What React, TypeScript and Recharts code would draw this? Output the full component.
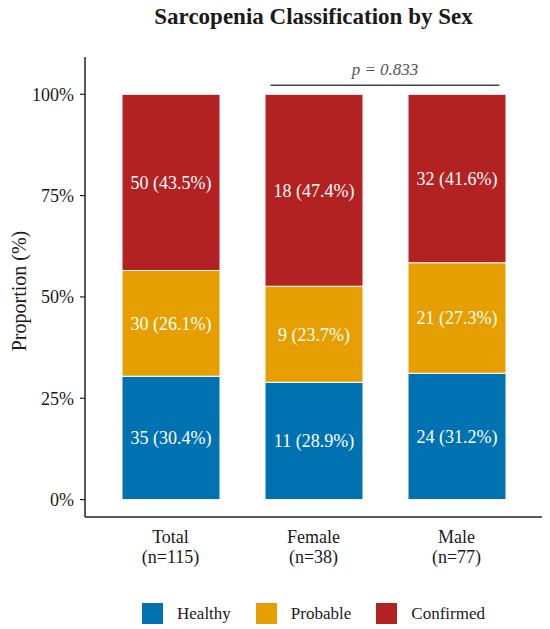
import React from "react";
import {
  BarChart,
  Bar,
  XAxis,
  YAxis,
  LabelList,
  Legend,
  ReferenceLine,
} from "recharts";

// groups on the x axis, with their sample sizes
const groups = ["Total", "Female", "Male"];
const groupN = [115, 38, 77];

// counts per class (stacked bottom -> top)
const healthyCounts = [35, 11, 24];
const probableCounts = [30, 9, 21];
const confirmedCounts = [50, 18, 32];

const classNames = ["Healthy", "Probable", "Confirmed"];
const yTicks = [0, 25, 50, 75, 100];
const pValueLabel = "p = 0.833";
const bracketFrom = "Female";
const bracketTo = "Male";

const COLORS: Record<string, string> = {
  Healthy: "#0072B2",
  Probable: "#E69F00",
  Confirmed: "#B22222",
};

const FONT = "'Liberation Serif', 'Times New Roman', serif";
const INK = "#1a1a1a";

const pct = (c: number, n: number) => (c / n) * 100;
const lbl = (c: number, n: number) => `${c} (${pct(c, n).toFixed(1)}%)`;

const rows = groups.map((g, i) => ({
  group: g,
  healthy: pct(healthyCounts[i], groupN[i]),
  probable: pct(probableCounts[i], groupN[i]),
  confirmed: pct(confirmedCounts[i], groupN[i]),
  healthyLabel: lbl(healthyCounts[i], groupN[i]),
  probableLabel: lbl(probableCounts[i], groupN[i]),
  confirmedLabel: lbl(confirmedCounts[i], groupN[i]),
}));

function GroupTick(props: any) {
  const { x, y, payload } = props;
  const i = groups.indexOf(payload.value);
  return (
    <text x={x} y={y} textAnchor="middle" fontSize={18} fill={INK} fontFamily={FONT}>
      <tspan x={x} dy={18}>
        {payload.value}
      </tspan>
      <tspan x={x} dy={20}>
        (n={groupN[i]})
      </tspan>
    </text>
  );
}

function YTitle(props: any) {
  const { viewBox } = props;
  const cx = viewBox.x + 26;
  const cy = viewBox.y + viewBox.height / 2 + 4;
  return (
    <text
      x={cx}
      y={cy}
      transform={`rotate(-90, ${cx}, ${cy})`}
      textAnchor="middle"
      fontSize={20}
      fill={INK}
      fontFamily={FONT}
    >
      Proportion (%)
    </text>
  );
}

// bracket spans from 0.3 band left of the first centre to 0.3 band right of the second
function Bracket(props: any) {
  const { x1, x2, y1, y2 } = props;
  const d = (x2 - x1) * 0.3;
  return <line x1={x1 - d} x2={x2 + d} y1={y1} y2={y2} stroke="#444" strokeWidth={1.5} />;
}

function LegendBox() {
  return (
    <div
      style={{
        height: 30,
        paddingTop: 9,
        boxSizing: "border-box",
        display: "flex",
        justifyContent: "center",
        alignItems: "center",
        gap: 25,
        fontFamily: FONT,
        fontSize: 17,
        color: INK,
      }}
    >
      {classNames.map((name) => (
        <span key={name} style={{ display: "inline-flex", alignItems: "center", gap: 14 }}>
          <span style={{ width: 21, height: 21, background: COLORS[name], display: "inline-block" }} />
          {name}
        </span>
      ))}
    </div>
  );
}

export default function App() {
  return (
    <div
      style={{
        position: "absolute",
        left: 0,
        top: 0,
        width: 550,
        height: 629,
        background: "#fff",
        fontFamily: FONT,
      }}
    >
      <div
        style={{
          position: "absolute",
          left: 85,
          width: 457,
          top: 4,
          lineHeight: "26px",
          textAlign: "center",
          fontSize: 23,
          fontWeight: "bold",
          color: INK,
        }}
      >
        Sarcopenia Classification by Sex
      </div>
      <BarChart
        width={550}
        height={629}
        data={rows}
        margin={{ top: 57, right: 8, bottom: 5, left: 0 }}
        barCategoryGap={0}
      >
        <XAxis
          dataKey="group"
          height={77}
          padding={{ left: 14, right: 14 }}
          axisLine={{ stroke: "#222", strokeWidth: 1.5 }}
          tickLine={false}
          tick={<GroupTick />}
          interval={0}
        />
        <YAxis
          width={85}
          domain={[-4.3, 109.2]}
          ticks={yTicks}
          allowDataOverflow
          tickFormatter={(v) => `${v}%`}
          tick={{ fill: INK, fontSize: 18, fontFamily: FONT }}
          tickSize={5}
          tickMargin={6}
          axisLine={{ stroke: "#222", strokeWidth: 1.5 }}
          tickLine={{ stroke: "#222", strokeWidth: 1.2 }}
          label={<YTitle />}
        />
        <Legend verticalAlign="bottom" content={<LegendBox />} wrapperStyle={{ left: 85, width: 457, bottom: 5 }} />
        <Bar dataKey="healthy" name="Healthy" stackId="s" fill={COLORS.Healthy} stroke="#fff" strokeWidth={1} barSize={98} isAnimationActive={false}>
          <LabelList dataKey="healthyLabel" position="center" fill="#fff" fontSize={18} fontFamily={FONT} />
        </Bar>
        <Bar dataKey="probable" name="Probable" stackId="s" fill={COLORS.Probable} stroke="#fff" strokeWidth={1} barSize={98} isAnimationActive={false}>
          <LabelList dataKey="probableLabel" position="center" fill="#fff" fontSize={18} fontFamily={FONT} />
        </Bar>
        <Bar dataKey="confirmed" name="Confirmed" stackId="s" fill={COLORS.Confirmed} stroke="#fff" strokeWidth={1} barSize={98} isAnimationActive={false}>
          <LabelList dataKey="confirmedLabel" position="center" fill="#fff" fontSize={18} fontFamily={FONT} />
        </Bar>
        <ReferenceLine
          segment={[
            { x: bracketFrom, y: 102.2 },
            { x: bracketTo, y: 102.2 },
          ]}
          ifOverflow="visible"
          shape={<Bracket />}
          label={{
            value: pValueLabel,
            position: "top",
            offset: 10,
            fill: "#555",
            fontSize: 17,
            fontStyle: "italic",
            fontFamily: FONT,
          }}
        />
      </BarChart>
    </div>
  );
}
